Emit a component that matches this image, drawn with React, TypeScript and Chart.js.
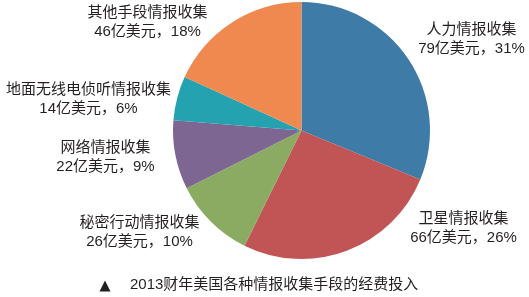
import React, { useEffect, useRef } from "react";
import { Chart, registerables } from "chart.js";

Chart.register(...registerables);

const categories = ["人力情报收集", "卫星情报收集", "秘密行动情报收集", "网络情报收集", "地面无线电侦听情报收集", "其他手段情报收集"];
const amounts = [79, 66, 26, 22, 14, 46];
const percents = [31, 26, 10, 9, 6, 18];
const colors = ["#3E7BA7", "#C15455", "#8BAA62", "#7E6692", "#24A2B0", "#F0894F"];
const caption = "2013财年美国各种情报收集手段的经费投入";

// label anchor offsets relative to pie center (layout only)
const labelOffsets = [
  [170, -101],
  [162, 88],
  [-162, 92],
  [-196, 17],
  [-213, -41],
  [-154, -118],
];

const FONT = "15px 'Liberation Sans', 'Noto Sans CJK SC', sans-serif";
const TEXT_COLOR = "#231F20";

const labelPlugin = {
  id: "pieLabels",
  afterDraw(chart: any) {
    const ctx = chart.ctx;
    const meta = chart.getDatasetMeta(0);
    const arc = meta.data[0];
    if (!arc) return;
    const cx = arc.x;
    const cy = arc.y;
    ctx.save();
    ctx.font = FONT;
    ctx.fillStyle = TEXT_COLOR;
    ctx.textAlign = "center";
    ctx.textBaseline = "middle";
    categories.forEach((name, i) => {
      const [dx, dy] = labelOffsets[i];
      ctx.fillText(name, cx + dx, cy + dy);
      ctx.fillText(`${amounts[i]}亿美元，${percents[i]}%`, cx + dx, cy + dy + 19);
    });
    // caption
    const w = chart.width;
    const h = chart.height;
    ctx.textAlign = "left";
    ctx.fillText(caption, 130, h - 12);
    ctx.beginPath();
    ctx.moveTo(105, h - 16.5);
    ctx.lineTo(99.5, h - 5.5);
    ctx.lineTo(110.5, h - 5.5);
    ctx.closePath();
    ctx.fill();
    ctx.restore();
  },
};

export default function App() {
  const ref = useRef<HTMLCanvasElement>(null);
  useEffect(() => {
    if (!ref.current) return;
    const chart = new Chart(ref.current, {
      type: "pie",
      data: {
        labels: categories,
        datasets: [
          {
            data: amounts,
            backgroundColor: colors,
            borderWidth: 0,
          },
        ],
      },
      options: {
        responsive: false,
        animation: false,
        devicePixelRatio: 1,
        layout: { padding: { left: 173, right: 99, top: 2, bottom: 38 } },
        plugins: {
          legend: { display: false },
          tooltip: { enabled: false },
        },
      },
      plugins: [labelPlugin],
    });
    return () => chart.destroy();
  }, []);
  return (
    <div style={{ position: "fixed", left: 0, top: 0, width: 529, height: 297, background: "#fff" }}>
      <canvas ref={ref} width={529} height={297} style={{ width: 529, height: 297 }} />
    </div>
  );
}
